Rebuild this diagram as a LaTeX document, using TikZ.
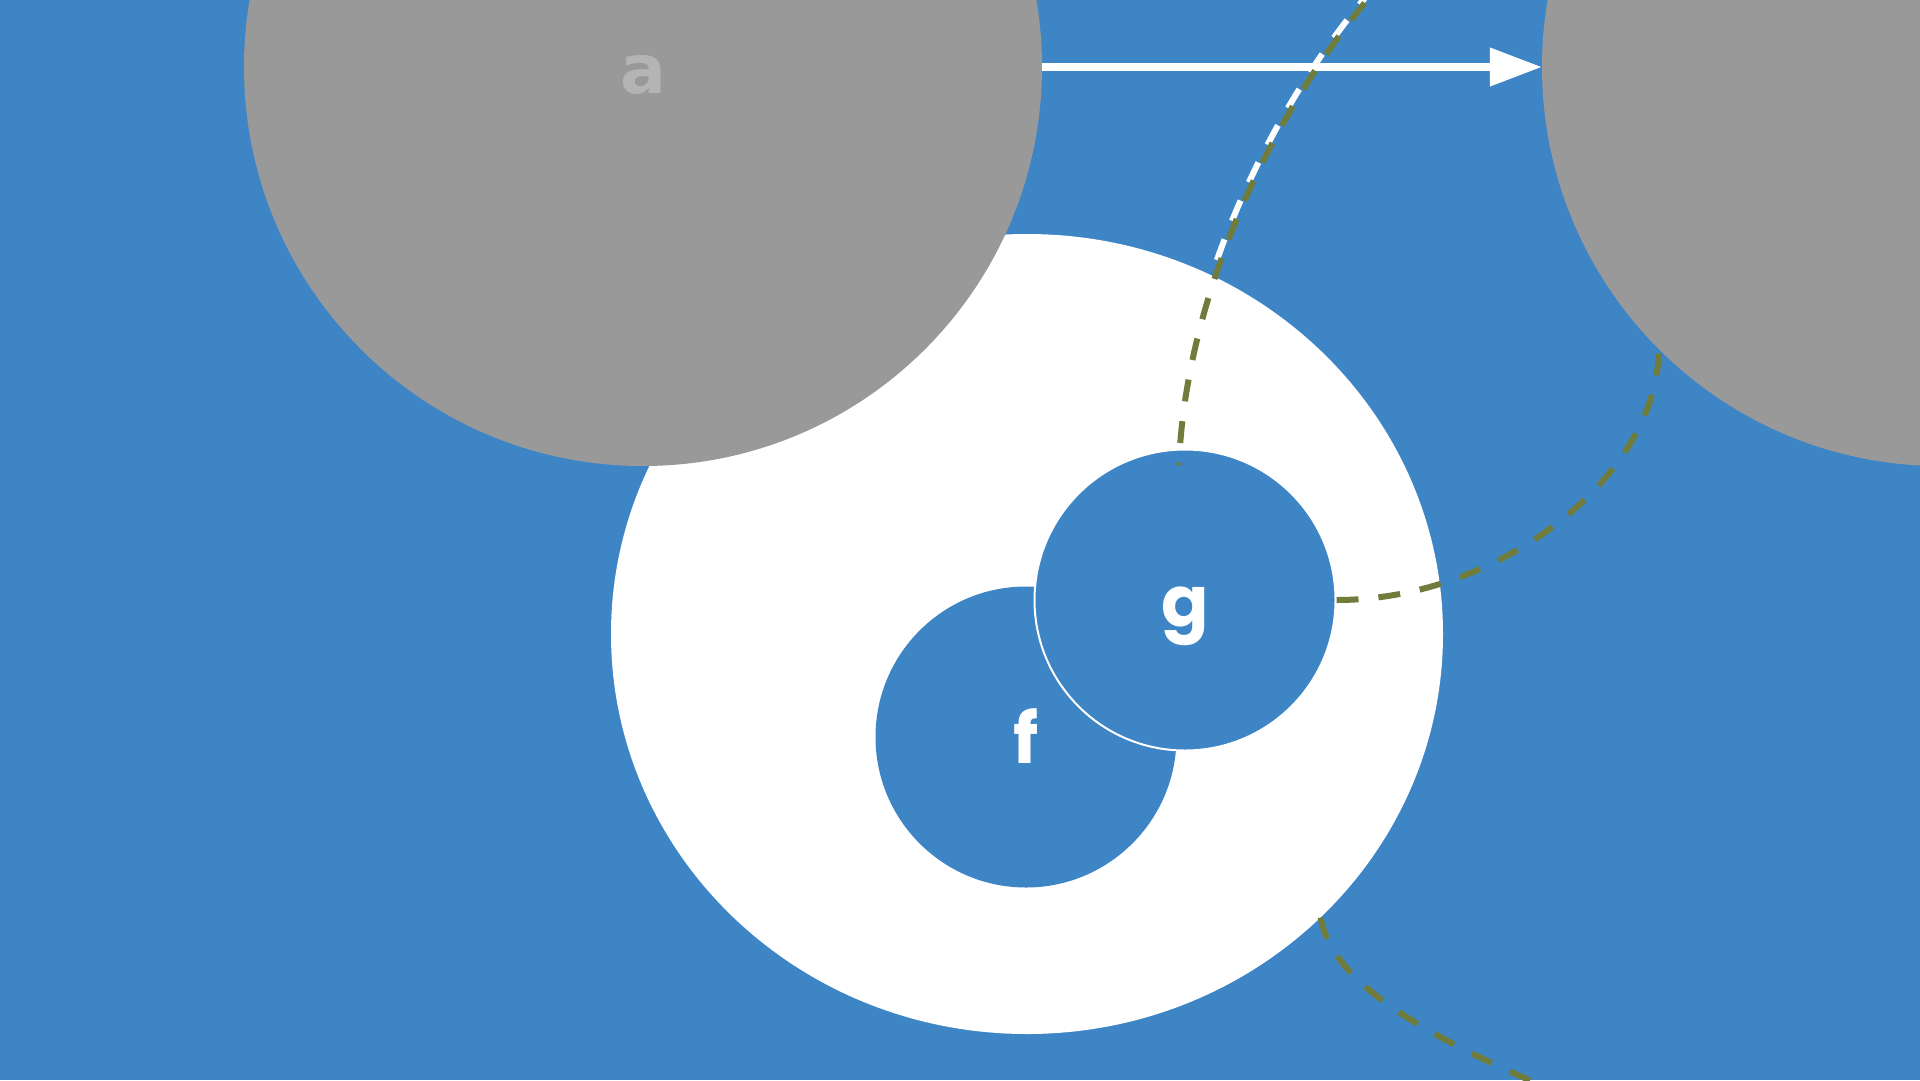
\documentclass[tikz,border=0pt]{standalone}
\usepackage{fontspec}
\setmainfont{Poppins}
\newfontfamily\afont{DejaVu Sans}
\usetikzlibrary{arrows.meta,shapes.geometric}
\definecolor{bgblue}{HTML}{3E85C6}
\definecolor{shapegray}{HTML}{999999}
\definecolor{labelgray}{HTML}{B4B4B4}
\definecolor{olivelink}{HTML}{6F7C3B}
\begin{document}
\begin{tikzpicture}[x=1pt,y=-1pt,
  bigcirc/.style={circle, fill=shapegray, minimum size=798pt, inner sep=0pt, text=labelgray},
  smallcirc/.style={circle, fill=bgblue, minimum size=301pt, inner sep=0pt, text=white},
  lbl/.style={font=\fontsize{70}{84}\selectfont\bfseries, text height=60pt, text depth=8pt},
  link/.style={draw=olivelink, line width=6pt, dash pattern=on 22pt off 20pt},
  whitelink/.style={draw=white, line width=6pt, dash pattern=on 22pt off 20pt, dash phase=0pt}]
\useasboundingbox (0,0) rectangle (1920,1080);
\fill[bgblue] (0,0) rectangle (1920,1080);
\clip (0,0) rectangle (1920,1080);
% shapes
\node[ellipse, fill=white, minimum width=832pt, minimum height=800pt, inner sep=0pt] (e) at (1027,634) {};
\node[bigcirc, lbl, font=\afont\fontsize{68}{80}\selectfont\bfseries] (a) at (643,67) {a};
\node[bigcirc] (b) at (1941,67) {};
\coordinate (g1) at (1179,465);
\coordinate (topend) at (1380,-15);
\coordinate (lowend) at (1640,1125);
\draw[whitelink] ([xshift=-4pt]g1) .. controls (1181,300) and (1266,110) .. ([xshift=-4pt]topend);
\node[smallcirc, lbl] (f) at (1026,737) {f};
\node[smallcirc, lbl, draw=white, line width=2pt] (g) at (1185,600) {g};
% arrow
\draw[white, line width=7.5pt, -{Triangle[length=52pt,width=37pt]}] (a) -- (b);
% dashed links
\draw[link, dash phase=20pt] (g1) .. controls (1185,300) and (1270,110) .. (topend);
\draw[link] (g.east) .. controls +(165,0) and +(0,125) .. (b.225);
\draw[link] (e.-44) .. controls (1332,985) and (1430,1045) .. (lowend);
\end{tikzpicture}
\end{document}
